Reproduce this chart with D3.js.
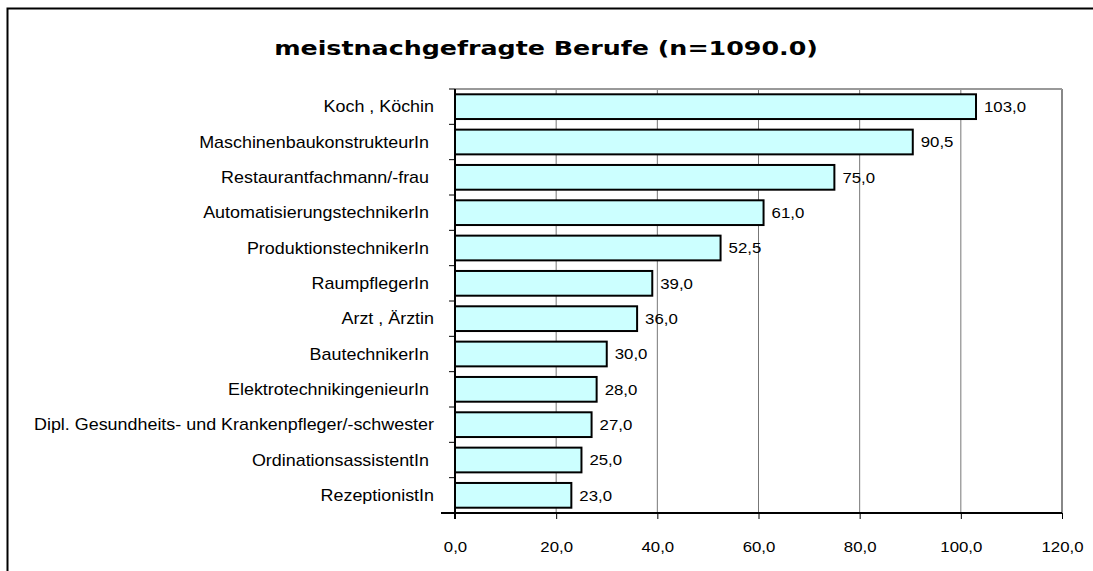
<!DOCTYPE html>
<html>
<head>
<meta charset="utf-8">
<script src="https://cdn.jsdelivr.net/npm/d3@7"></script>
<style>
  body { margin: 0; background: #fff; }
  text { white-space: pre; }
</style>
</head>
<body>
<div id="chart"></div>
<script>
var title = "meistnachgefragte Berufe (n=1090.0)";
var berufe = [
  "Koch , Köchin",
  "MaschinenbaukonstrukteurIn ",
  "Restaurantfachmann/-frau ",
  "AutomatisierungstechnikerIn ",
  "ProduktionstechnikerIn ",
  "RaumpflegerIn ",
  "Arzt , Ärztin",
  "BautechnikerIn ",
  "ElektrotechnikingenieurIn ",
  "Dipl. Gesundheits- und Krankenpfleger/-schwester",
  "OrdinationsassistentIn ",
  "RezeptionistIn"
];
var anzahl = [103.0, 90.5, 75.0, 61.0, 52.5, 39.0, 36.0, 30.0, 28.0, 27.0, 25.0, 23.0];
var xTicks = [0, 20, 40, 60, 80, 100, 120];

var W = 1093, H = 571;
var pLeft = 455, pRight = 1062, pTop = 89, pBottom = 513;
var stretch = 1.12; // the source picture is a bit wider than it is tall
var fmt = v => d3.format(".1f")(v).replace(".", ",");

var svg = d3.select("#chart").append("svg")
  .attr("width", W)
  .attr("height", H);

// outer frame (only top and left edges are visible)
svg.append("path")
  .attr("d", "M7.5," + H + "V8.5H" + W)
  .attr("fill", "none")
  .attr("stroke", "#000")
  .attr("stroke-width", 2);

var t = svg.append("text")
  .attr("text-anchor", "middle")
  .style("font-family", "DejaVu Sans")
  .style("font-weight", "bold")
  .style("font-size", "20px")
  .text(title);
var tw = t.node().getComputedTextLength();
t.attr("transform", "translate(546,55) scale(" + (544 / tw) + ",1)");

var x = d3.scaleLinear().domain([0, 120]).range([pLeft, pRight]);
var y = d3.scaleBand().domain(berufe).range([pTop, pBottom]).paddingInner(0.3).paddingOuter(0.15);
var band = d3.scaleBand().domain(berufe).range([pTop, pBottom]);

// grid lines
svg.append("g")
  .selectAll("line")
  .data(xTicks.slice(1))
  .enter().append("line")
  .attr("x1", d => x(d)).attr("x2", d => x(d))
  .attr("y1", pTop).attr("y2", pBottom)
  .attr("stroke", d => d == 120 ? "#888" : "#777")
  .attr("stroke-width", d => d == 120 ? 2 : 1);

svg.append("line")
  .attr("x1", pLeft).attr("x2", pRight)
  .attr("y1", pTop).attr("y2", pTop)
  .attr("stroke", "#999")
  .attr("stroke-width", 2);

// bars
svg.append("g")
  .selectAll("rect")
  .data(berufe)
  .enter().append("rect")
  .attr("x", x(0))
  .attr("y", d => y(d))
  .attr("width", (d, i) => x(anzahl[i]) - x(0))
  .attr("height", y.bandwidth())
  .attr("fill", "#ccffff")
  .attr("stroke", "#000")
  .attr("stroke-width", 2);

// value labels
svg.append("g")
  .selectAll("text")
  .data(berufe)
  .enter().append("text")
  .attr("transform", (d, i) => "translate(" + (x(anzahl[i]) + 8) + "," + (y(d) + y.bandwidth() / 2) + ") scale(" + stretch + ",1)")
  .attr("dy", "0.35em")
  .style("font-family", "Liberation Sans, Arial")
  .style("font-size", "15px")
  .text((d, i) => fmt(anzahl[i]));

// y axis
var yAxis = svg.append("g")
  .attr("transform", "translate(" + pLeft + ",0)");
yAxis.append("line")
  .attr("y1", pTop).attr("y2", pBottom + 6)
  .attr("stroke", "#000").attr("stroke-width", 2);
yAxis.selectAll(".tk")
  .data(berufe.concat([null]))
  .enter().append("line")
  .attr("x1", -6).attr("x2", 0)
  .attr("y1", d => d == null ? pBottom : band(d))
  .attr("y2", d => d == null ? pBottom : band(d))
  .attr("stroke", "#000");
yAxis.selectAll("text")
  .data(berufe)
  .enter().append("text")
  .attr("transform", d => "translate(-21," + (band(d) + band.bandwidth() / 2) + ") scale(" + stretch + ",1)")
  .attr("dy", "0.35em")
  .attr("text-anchor", "end")
  .style("font-family", "Liberation Sans, Arial")
  .style("font-size", "16px")
  .text(d => d);

// x axis
var xAxis = svg.append("g")
  .attr("transform", "translate(0," + pBottom + ")")
  .call(d3.axisBottom(x).tickValues(xTicks).tickSize(6).tickPadding(22).tickFormat(fmt));
xAxis.select(".domain").attr("stroke", "#000").attr("stroke-width", 2)
  .attr("d", "M" + (pLeft - 14) + ",0H" + pRight);
xAxis.selectAll(".tick text")
  .attr("transform", "scale(" + stretch + ",1)")
  .style("font-family", "Liberation Sans, Arial")
  .style("font-size", "15px")
  .attr("fill", "#000");
</script>
</body>
</html>
